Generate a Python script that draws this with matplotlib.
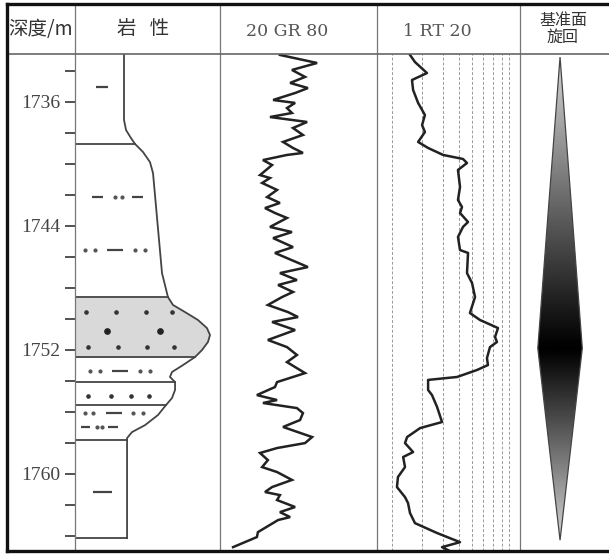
import numpy as np
import matplotlib
matplotlib.use("Agg")
import matplotlib.pyplot as plt
from matplotlib.patches import Polygon
from matplotlib.lines import Line2D
from matplotlib.ticker import FixedLocator, MultipleLocator, NullFormatter

plt.rcParams['font.family'] = ['Noto Sans CJK SC', 'DejaVu Sans']

# ---------------- data ----------------
depth_top, depth_bottom = 1732.9, 1765.0
depth_major = [1736, 1744, 1752, 1760]
header_depth = "深度/m"
header_lith = "岩   性"
header_gr = "20 GR 80"
header_rt = "1 RT 20"
header_bl = "基准面\n旋回"

gr_depth = [1732.96, 1733.48, 1733.93, 1734.38, 1734.77, 1735.10, 1735.42, 1735.87, 1736.06, 1736.39,
            1736.71, 1736.97, 1737.29, 1737.68, 1738.13, 1738.58, 1738.97, 1739.29, 1739.42, 1739.75,
            1740.07, 1740.72, 1740.91, 1741.23, 1741.68, 1742.14, 1742.52, 1742.85, 1743.17, 1743.49,
            1744.07, 1744.40, 1744.79, 1745.37, 1745.75, 1746.66, 1747.05, 1747.50, 1747.82, 1748.27,
            1748.60, 1749.11, 1749.57, 1749.89, 1750.21, 1750.73, 1751.37, 1751.83, 1752.34, 1752.80,
            1753.51, 1754.09, 1754.41, 1754.93, 1755.25, 1755.44, 1755.77, 1756.09, 1756.54, 1756.99,
            1757.64, 1758.03, 1758.35, 1758.67, 1759.13, 1759.58, 1759.90, 1760.41, 1760.87, 1761.19,
            1761.39, 1761.71, 1762.16, 1762.49, 1762.81, 1763.00, 1763.78, 1764.10, 1764.75]
gr_value = [42.9, 57.1, 47.5, 52.5, 46.8, 53.6, 48.7, 40.3, 48.7, 45.6,
            47.5, 39.1, 53.3, 47.9, 51.7, 44.1, 47.9, 51.7, 45.6, 36.4,
            39.9, 35.3, 39.1, 36.1, 41.8, 38.0, 42.9, 37.2, 41.0, 45.6,
            39.1, 47.5, 40.3, 47.9, 41.0, 53.6, 42.9, 49.4, 42.2, 47.9,
            43.7, 38.3, 46.0, 49.8, 39.9, 48.7, 38.3, 45.6, 49.4, 45.6,
            52.5, 41.8, 41.0, 34.1, 41.8, 36.4, 49.4, 51.7, 50.6, 44.1,
            55.2, 52.5, 41.8, 35.3, 38.3, 36.1, 41.8, 47.5, 39.9, 37.2,
            42.9, 41.8, 48.7, 42.9, 46.8, 42.2, 34.5, 34.1, 25.0]

rt_depth = [1732.96, 1733.42, 1734.13, 1734.58, 1735.22, 1736.06, 1736.84, 1737.49, 1737.94, 1738.58,
            1738.97, 1739.42, 1739.68, 1739.94, 1740.39, 1741.49, 1742.33, 1742.78, 1743.17, 1743.75,
            1744.07, 1744.72, 1745.56, 1745.75, 1747.05, 1747.69, 1748.60, 1749.63, 1750.08, 1750.60,
            1751.18, 1751.50, 1751.83, 1752.54, 1752.99, 1753.31, 1753.76, 1753.95, 1754.60, 1754.93,
            1755.70, 1756.67, 1757.06, 1757.64, 1758.03, 1758.61, 1758.93, 1759.58, 1760.22, 1760.87,
            1761.52, 1761.90, 1762.55, 1763.20, 1763.84, 1764.43, 1764.75, 1765.07]
rt_value = [2.56, 2.74, 3.23, 2.63, 2.67, 2.86, 3.14, 3.02, 3.14, 2.86,
            3.28, 4.03, 5.29, 5.59, 4.94, 5.08, 4.94, 5.22, 5.08, 5.67,
            5.29, 4.94, 5.08, 5.67, 5.59, 5.99, 6.24, 5.82, 6.68, 8.55,
            8.21, 8.43, 7.66, 7.35, 7.45, 6.41, 4.88, 3.28, 3.28, 3.46,
            3.71, 3.97, 2.94, 2.46, 2.39, 2.67, 2.33, 2.39, 2.17, 2.14,
            2.39, 2.49, 2.56, 2.74, 3.71, 5.08, 3.97, 4.55]
rt_grid = [2, 3, 4, 5, 6, 7, 8, 9, 10]
rt_range = (1.628, 11.56)

# lithology: unit boundaries and types
lith_tops = [1732.9, 1738.71, 1748.60, 1752.47, 1754.09, 1755.57, 1757.84]
lith_bottoms = [1738.71, 1748.60, 1752.47, 1754.09, 1755.57, 1757.84, 1764.17]
lith_types = ['mud', 'silty_mud', 'sand', 'silty_mud', 'silt', 'silty_mud', 'mud']
# grain-size profile (fraction of column width)
profile_depth = [1732.90, 1737.16, 1737.81, 1738.33, 1738.71, 1739.23, 1739.88, 1740.59, 1747.05, 1748.60,
                 1749.11, 1749.57, 1750.08, 1750.60, 1751.05, 1751.50, 1752.02, 1752.47, 1752.99, 1753.44,
                 1753.76, 1754.09, 1754.60, 1755.12, 1755.57, 1756.22, 1756.87, 1757.32, 1757.71, 1757.84,
                 1764.17]
profile_width = [0.338, 0.338, 0.352, 0.386, 0.414, 0.469, 0.517, 0.538, 0.600, 0.641,
                 0.676, 0.759, 0.848, 0.910, 0.931, 0.917, 0.876, 0.828, 0.745, 0.669,
                 0.655, 0.690, 0.690, 0.669, 0.628, 0.572, 0.483, 0.393, 0.359, 0.359,
                 0.359]
# lithology symbols
dash_depth = [1735.03, 1742.14, 1742.14, 1745.56, 1753.38, 1756.09, 1756.99, 1756.99, 1761.19]
dash_x0 = [0.145, 0.117, 0.393, 0.221, 0.255, 0.214, 0.041, 0.228, 0.124]
dash_x1 = [0.228, 0.193, 0.469, 0.331, 0.366, 0.324, 0.103, 0.297, 0.255]
pair_depth = [1742.14, 1745.56, 1745.56, 1753.38, 1753.38, 1756.09, 1756.09, 1756.99]
pair_x0 = [0.276, 0.069, 0.414, 0.103, 0.448, 0.069, 0.400, 0.152]
pair_x1 = [0.324, 0.138, 0.483, 0.172, 0.517, 0.124, 0.469, 0.186]
dot_depth = [1749.57] * 4 + [1751.83] * 4 + [1754.99] * 4
dot_x = [0.076, 0.283, 0.490, 0.669, 0.090, 0.297, 0.497, 0.683, 0.090, 0.248, 0.386, 0.510]
bigdot_depth = [1750.79, 1750.79]
bigdot_x = [0.221, 0.586]

# base-level cycle diamond
bl_depth = [1733.1, 1751.9, 1764.3]
bl_halfwidth = [0.0, 0.25, 0.0]

# ---------------- figure ----------------
W, H = 609, 555
fig = plt.figure(figsize=(W / 100, H / 100), dpi=100)
fig.patch.set_facecolor('white')

Y_TOP, Y_BOT = 54, 551
COLS = [7, 75, 220, 377, 520, 609]


def fline(xs, ys, **kw):
    fig.add_artist(Line2D([x / W for x in xs], [1 - y / H for y in ys],
                          transform=fig.transFigure, **kw))


def ax_at(x0, x1):
    ax = fig.add_axes([x0 / W, 1 - Y_BOT / H, (x1 - x0) / W, (Y_BOT - Y_TOP) / H])
    ax.set_facecolor('none')
    for s in ax.spines.values():
        s.set_visible(False)
    ax.set_ylim(depth_bottom, depth_top)
    ax.set_xticks([])
    ax.set_yticks([])
    return ax


# lithology axis (also carries depth ticks on its left)
ax_l = ax_at(COLS[1], COLS[2])
ax_l.set_xlim(0, 1)
ax_l.yaxis.set_major_locator(FixedLocator(depth_major))
ax_l.yaxis.set_minor_locator(MultipleLocator(2))
ax_l.yaxis.set_minor_formatter(NullFormatter())
ax_l.set_yticklabels([str(d) for d in depth_major], fontsize=14,
                     family='Liberation Serif', color='#444444')
ax_l.tick_params(axis='y', which='both', direction='out', length=7.5, width=1.2,
                 color='#333333', pad=3)

pd = np.array(profile_depth)
pw = np.array(profile_width)
for top, bot, kind in zip(lith_tops, lith_bottoms, lith_types):
    m = (pd >= top - 1e-6) & (pd <= bot + 1e-6)
    if kind == 'sand':
        ax_l.fill_betweenx(pd[m], 0, pw[m], color='#d9d9d9', lw=0, zorder=1)
ax_l.plot(pw, pd, color='#444444', lw=1.3, zorder=3)
for b in lith_tops[1:] + [lith_bottoms[-1]]:
    ax_l.plot([0, np.interp(b, pd, pw)], [b, b], color='#444444', lw=1.3, zorder=3)

for d, a, b in zip(dash_depth, dash_x0, dash_x1):
    ax_l.plot([a, b], [d, d], color='#444444', lw=1.6, solid_capstyle='butt', zorder=4)
for d, a, b in zip(pair_depth, pair_x0, pair_x1):
    ax_l.plot([a, b], [d, d], ls='none', marker='o', ms=2.0, color='#555555', zorder=4)
ax_l.plot(dot_x, dot_depth, ls='none', marker='o', ms=2.3, color='#333333', zorder=4)
ax_l.plot(bigdot_x, bigdot_depth, ls='none', marker='o', ms=3.8, color='#222222', zorder=4)

# GR
ax_g = ax_at(COLS[2], COLS[3])
ax_g.set_xlim(20, 80)
ax_g.plot(gr_value, gr_depth, color='#222222', lw=1.8, solid_joinstyle='miter', clip_on=True)

# RT
ax_r = ax_at(COLS[3], COLS[4])
ax_r.set_xscale('log')
ax_r.set_xlim(*rt_range)
ax_r.set_xticks([])
ax_r.minorticks_off()
for g in rt_grid:
    ax_r.axvline(g, color='#999999', lw=0.7, dashes=(3, 2), zorder=1)
ax_r.plot(rt_value, rt_depth, color='#222222', lw=1.8, zorder=3)

# base-level cycle
ax_b = ax_at(COLS[4], COLS[5])
ax_b.set_xlim(0, 1)
cx = 0.45
poly_pts = [(cx, bl_depth[0]), (cx + bl_halfwidth[1], bl_depth[1]),
            (cx, bl_depth[2]), (cx - bl_halfwidth[1], bl_depth[1])]
dd = np.linspace(depth_top, depth_bottom, 600)
t = np.where(dd <= bl_depth[1],
             (dd - bl_depth[0]) / (bl_depth[1] - bl_depth[0]),
             (bl_depth[2] - dd) / (bl_depth[2] - bl_depth[1]))
t = np.clip(t, 0, 1)
gray = 0.84 * (1 - t) ** 1.05
img = np.repeat(gray[:, None], 2, axis=1)
im = ax_b.imshow(img, cmap='gray', vmin=0, vmax=1, aspect='auto',
                 extent=(0, 1, depth_bottom, depth_top), origin='upper', zorder=1)
poly = Polygon(poly_pts, closed=True, facecolor='none', edgecolor='#444444', lw=0.9, zorder=2)
ax_b.add_patch(poly)
im.set_clip_path(poly)
ax_b.set_ylim(depth_bottom, depth_top)

# ---------------- frame & headers ----------------
for x in COLS[1:5]:
    fline([x, x], [4, Y_BOT], color='#777777', lw=0.9)
fline([COLS[0], W], [Y_TOP, Y_TOP], color='#666666', lw=1.2)
fline([COLS[0], W], [4, 4], color='#111111', lw=2.4)
fline([COLS[0], W], [Y_BOT, Y_BOT], color='#111111', lw=2.4)
fline([COLS[0], COLS[0]], [4, Y_BOT], color='#111111', lw=2.4)

hc = '#333333'
fig.text(41 / W, 1 - 29 / H, header_depth, ha='center', va='center', fontsize=14, color=hc)
fig.text(143 / W, 1 - 29 / H, header_lith, ha='center', va='center', fontsize=14, color=hc)
fig.text(287 / W, 1 - 31 / H, header_gr, ha='center', va='center', fontsize=12.5,
         family='DejaVu Serif', color='#555555')
fig.text(437 / W, 1 - 31 / H, header_rt, ha='center', va='center', fontsize=12.5,
         family='DejaVu Serif', color='#555555')
fig.text(563 / W, 1 - 29 / H, header_bl, ha='center', va='center', fontsize=11.5,
         color=hc, linespacing=1.0)

fig.savefig('out.png', dpi=100, facecolor='white')
